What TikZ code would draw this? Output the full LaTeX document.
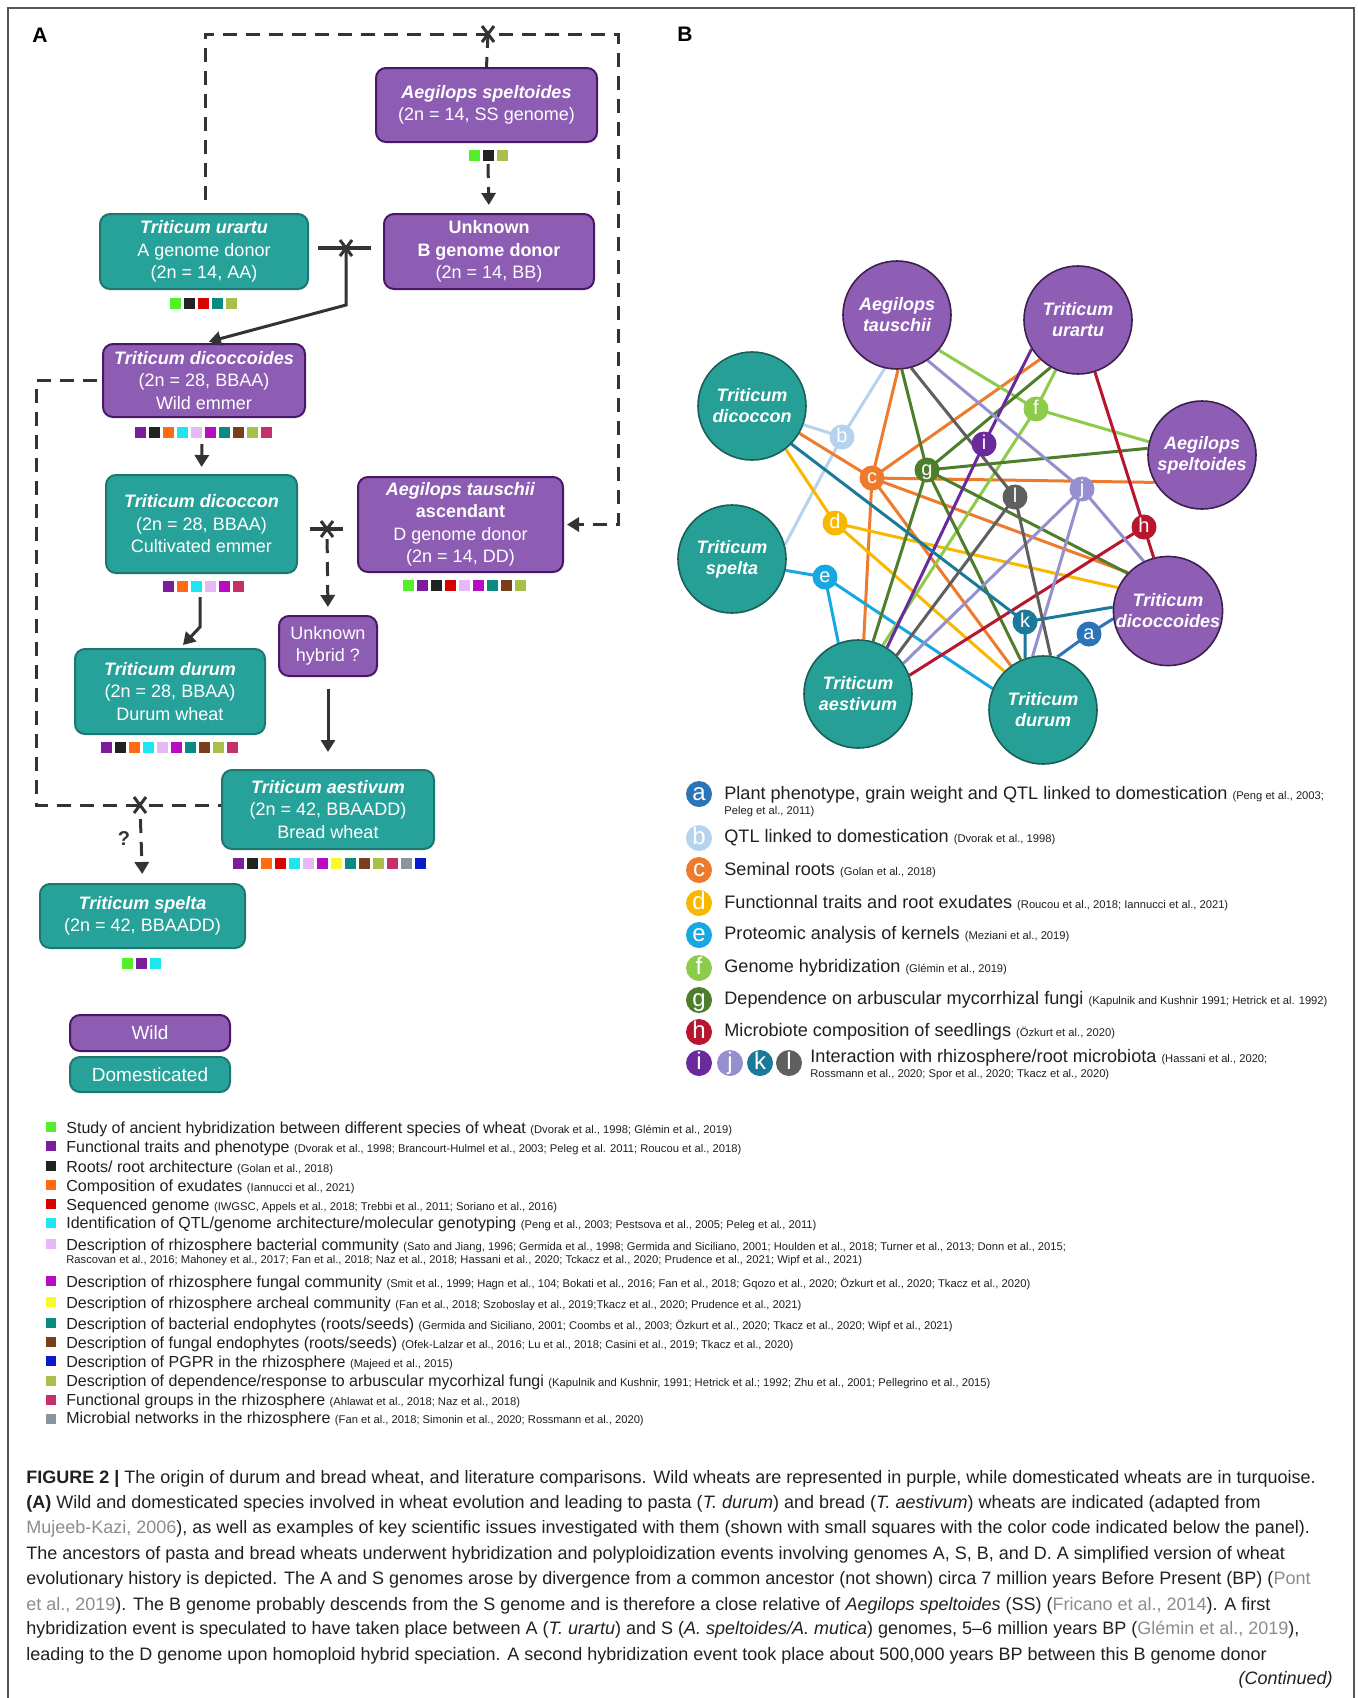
\documentclass[tikz,border=0pt]{standalone}
\usepackage{fontspec}
\setmainfont{Liberation Sans}
\usetikzlibrary{arrows.meta,calc}
\pgfdeclarelayer{edgelayer}
\pgfsetlayers{edgelayer,main}
% box colours
\definecolor{wildF}{HTML}{8D5CB3}
\definecolor{wildD}{HTML}{4A1768}
\definecolor{domF}{HTML}{27A29A}
\definecolor{domD}{HTML}{1D7770}
\definecolor{bwildF}{HTML}{8E5DB4}
\definecolor{bwildD}{HTML}{3D2050}
\definecolor{bdomF}{HTML}{26A096}
\definecolor{bdomD}{HTML}{1A5E58}
\definecolor{lineC}{HTML}{333333}
\definecolor{frameC}{HTML}{555555}
\definecolor{txtC}{HTML}{231F20}
\definecolor{citC}{HTML}{8C8C8C}
% square colours
\definecolor{qGr}{HTML}{55EE2A}
\definecolor{qPu}{HTML}{7A1E9C}
\definecolor{qBk}{HTML}{222222}
\definecolor{qOr}{HTML}{FF6A13}
\definecolor{qRd}{HTML}{D80000}
\definecolor{qCy}{HTML}{1EE6F0}
\definecolor{qLv}{HTML}{E6B8F5}
\definecolor{qMg}{HTML}{B70CC4}
\definecolor{qYe}{HTML}{F8F82A}
\definecolor{qTe}{HTML}{0A8A80}
\definecolor{qBr}{HTML}{7A3F1A}
\definecolor{qBl}{HTML}{0A1ACD}
\definecolor{qOl}{HTML}{A8C04A}
\definecolor{qCr}{HTML}{C4306A}
\definecolor{qGy}{HTML}{8895A0}
% letter colours
\definecolor{cA}{HTML}{2B74B8}
\definecolor{cB}{HTML}{B5D3EE}
\definecolor{cC}{HTML}{EE7A2E}
\definecolor{cD}{HTML}{F9B800}
\definecolor{cE}{HTML}{17A8E3}
\definecolor{cF}{HTML}{8DCB4A}
\definecolor{cG}{HTML}{4E7E2B}
\definecolor{cH}{HTML}{B8152E}
\definecolor{cI}{HTML}{6A2A9C}
\definecolor{cJ}{HTML}{9490CF}
\definecolor{cK}{HTML}{1B7A9A}
\definecolor{cL}{HTML}{5F5F5F}

\newcommand\cit[1]{{\fontsize{5.6}{6.5}\selectfont #1}}
\newcommand\gcit[1]{\textcolor{citC}{#1}}
\newcommand\hybx[1]{\draw[lineC, line width=1.5pt] ($(#1)+(-6,-8)$) -- ($(#1)+(6,8)$) ($(#1)+(-6,8)$) -- ($(#1)+(6,-8)$);}
\newcommand\sqrow[3]{\foreach \cc [count=\i from 0] in {#3}{\fill[\cc] ({#1+14*\i-5.5},{#2-5.5}) rectangle ++(11,11);}}

\tikzset{
  box/.style={rounded corners=5pt, line width=1pt, text=white, align=center, inner sep=0pt, font=\fontsize{9}{11.25}\selectfont},
  wild/.style={box, fill=wildF, draw=wildD},
  dom/.style={box, fill=domF, draw=domD},
  dline/.style={draw=lineC, line width=1.5pt, dash pattern=on 7pt off 4.5pt},
  sline/.style={draw=lineC, line width=1.5pt},
  barline/.style={draw=lineC, line width=2pt},
  arr/.style={-{Triangle[width=7pt,length=6pt]}},
  spc/.style={circle, minimum size=54pt, inner sep=0pt, line width=0.8pt, text=white, align=center, font=\bfseries\itshape\fontsize{9}{10.5}\selectfont},
  bwild/.style={spc, fill=bwildF, draw=bwildD},
  bdom/.style={spc, fill=bdomF, draw=bdomD},
  lett/.style={circle, minimum size=12.5pt, inner sep=0pt, text=white, font=\fontsize{10}{10}\selectfont, text height=7.2pt, text depth=1.9pt},
  lettL/.style={circle, minimum size=13pt, inner sep=0pt, text=white, font=\fontsize{12}{12}\selectfont, text height=8.6pt, text depth=2.3pt},
  edge/.style={line width=1.5pt},
  legA/.style={anchor=west, inner sep=0pt, font=\fontsize{8}{9.5}\selectfont, text=txtC},
  legB/.style={anchor=west, inner sep=0pt, font=\fontsize{9.05}{10}\selectfont, text=txtC},
  capt/.style={anchor=west, inner sep=0pt, font=\fontsize{9}{10}\selectfont, text=txtC},
}

\begin{document}
\begin{tikzpicture}[x=0.5pt,y=-0.5pt]
\useasboundingbox (0,0) rectangle (1357,1698);
\begin{pgfonlayer}{edgelayer}
\fill[white] (0,0) rectangle (1357,1698);
\end{pgfonlayer}
\draw[frameC, line width=1pt] (8,1698) -- (8,8) -- (1354,8) -- (1354,1698);

% ---------------- Panel A ----------------
\node[font=\bfseries\fontsize{10.5}{12}\selectfont] (lA) at (40,35) {A};

\node[wild, minimum width=110.5pt, minimum height=37pt] (SPT) at (486.5,105)
  {\textbf{\textit{Aegilops speltoides}}\\(2n = 14, SS genome)};
\node[dom, minimum width=104pt, minimum height=37.5pt] (URA) at (204,251.5)
  {\textbf{\textit{Triticum urartu}}\\A genome donor\\(2n = 14, AA)};
\node[wild, minimum width=105pt, minimum height=37.5pt] (UNB) at (489,251.5)
  {\textbf{Unknown}\\\textbf{B genome donor}\\(2n = 14, BB)};
\node[wild, minimum width=101pt, minimum height=36.5pt] (DCD) at (204,380.5)
  {\textbf{\textit{Triticum dicoccoides}}\\(2n = 28, BBAA)\\Wild emmer};
\node[dom, minimum width=95.5pt, minimum height=49pt] (DCN) at (201.5,524)
  {\textbf{\textit{Triticum dicoccon}}\\(2n = 28, BBAA)\\Cultivated emmer};
\node[wild, minimum width=102.5pt, minimum height=47.5pt] (TAU) at (460.5,524.5)
  {\textbf{\textit{Aegilops tauschii}}\\\textbf{ascendant}\\D genome donor\\(2n = 14, DD)};
\node[wild, minimum width=49pt, minimum height=30pt] (UNH) at (328,646)
  {Unknown\\hybrid ?};
\node[dom, minimum width=95pt, minimum height=42.5pt] (DUR) at (170,691.5)
  {\textbf{\textit{Triticum durum}}\\(2n = 28, BBAA)\\Durum wheat};
\node[dom, minimum width=106pt, minimum height=39.5pt] (AES) at (328,809.5)
  {\textbf{\textit{Triticum aestivum}}\\(2n = 42, BBAADD)\\Bread wheat};
\node[dom, minimum width=102.5pt, minimum height=32pt] (SPL) at (142.5,916)
  {\textbf{\textit{Triticum spelta}}\\(2n = 42, BBAADD)};

\node[wild, minimum width=80pt, minimum height=18pt, font=\fontsize{9.5}{11}\selectfont] (LW) at (150,1033) {Wild};
\node[dom, minimum width=80pt, minimum height=17.5pt, font=\fontsize{9.5}{11}\selectfont] (LD) at (150,1074.5) {Domesticated};

% squares
\sqrow{474}{155}{qGr,qBk,qOl}
\sqrow{175.5}{303}{qGr,qBk,qRd,qTe,qOl}
\sqrow{140.5}{432}{qPu,qBk,qOr,qCy,qLv,qMg,qTe,qBr,qOl,qCr}
\sqrow{168}{586}{qPu,qOr,qCy,qLv,qMg,qCr}
\sqrow{408.5}{585}{qGr,qPu,qBk,qRd,qLv,qMg,qTe,qBr,qOl}
\sqrow{106}{747}{qPu,qBk,qOr,qCy,qLv,qMg,qTe,qBr,qOl,qCr}
\sqrow{238}{863}{qPu,qBk,qOr,qRd,qCy,qLv,qMg,qYe,qTe,qBr,qOl,qCr,qGy,qBl}
\sqrow{127.5}{963}{qGr,qPu,qCy}

% connectors
\coordinate (ua) at (205,200);
\coordinate (xt) at (488,34);
\draw[dline,arr,shorten >=1.5pt] (ua) |- (618,34) |- (TAU.east);
\draw[dline] (xt) -- (SPT.north);
\hybx{xt}

\coordinate (sps) at (488,164);
\draw[dline,arr,shorten >=4pt] (sps) -- (UNB.north);

\coordinate (h1l) at (318,248);
\coordinate (h1r) at (371,248);
\coordinate (x1) at (346,248);
\draw[barline] (h1l) -- (h1r);
\hybx{x1}
\draw[sline,arr,shorten >=2.5pt] (x1) -- (346,305) -- (DCD.north);

\coordinate (x3) at (140,805);
\draw[dline,shorten <=2.5pt] (DCD.west) -| (36,805) -- (AES.west |- x3);
\hybx{x3}
\draw[dline,arr,shorten <=7pt,shorten >=4.5pt] (x3) -- (SPL.north);
\node[font=\bfseries\fontsize{10}{12}\selectfont, text=lineC] (qm) at (124,839) {?};

\coordinate (dq) at (202,444);
\draw[sline,arr,shorten >=3.5pt] (dq) -- (DCN.north);

\coordinate (h2l) at (310,529);
\coordinate (h2r) at (343,529);
\coordinate (x2) at (327,529);
\draw[barline] (h2l) -- (h2r);
\hybx{x2}
\draw[dline,arr,shorten <=5pt,shorten >=4pt] (x2) -- (UNH.north);

\draw[sline,arr,shorten <=6pt,shorten >=8.5pt] (UNH.south) -- (AES.north);

\coordinate (cq) at (200,597);
\coordinate (dt) at (183,645);
\draw[sline,arr] (cq) -- (200,627) -- (dt);

% ---------------- Panel B ----------------
\node[font=\bfseries\fontsize{10.5}{12}\selectfont] (lB) at (685,34) {B};

\node[bwild] (bTA) at (897,315) {Aegilops\\tauschii};
\node[bwild] (bTU) at (1078,320) {Triticum\\urartu};
\node[bdom] (bDCN) at (752,406) {Triticum\\dicoccon};
\node[bwild] (bSP) at (1202,455) {Aegilops\\speltoides};
\node[bdom] (bSPE) at (732,559) {Triticum\\spelta};
\node[bwild] (bDCD) at (1168,611) {Triticum\\dicoccoides};
\node[bdom] (bAES) at (858,694) {Triticum\\aestivum};
\node[bdom] (bDUR) at (1043,710) {Triticum\\durum};

\node[lett, fill=cA] (la) at (1089,634) {a};
\node[lett, fill=cB] (lb) at (842,437) {b};
\node[lett, fill=cC] (lc) at (872,478) {c};
\node[lett, fill=cD] (ld) at (835,523) {d};
\node[lett, fill=cE] (le) at (825,577) {e};
\node[lett, fill=cF] (lf) at (1036,409) {f};
\node[lett, fill=cG] (lg) at (927,470) {g};
\node[lett, fill=cH] (lh) at (1144,527) {h};
\node[lett, fill=cI] (li) at (984,444) {i};
\node[lett, fill=cJ] (lj) at (1082,489) {j};
\node[lett, fill=cK] (lk) at (1025,622) {k};
\node[lett, fill=cL] (ll) at (1015,497) {l};

\begin{pgfonlayer}{edgelayer}
  \foreach \t in {bDCD.188, bDUR.75} \draw[edge, cA] (la.center) -- (\t);
  \foreach \t in {bDCN.-20, bTA.257, bSPE.15} \draw[edge, cB] (lb.center) -- (\t);
  \foreach \t in {bDCN.-30, bTA.271, bTU.226, bSP.210, bAES.84, bDUR.126, bDCD.136} \draw[edge, cC] (lc.center) -- (\t);
  \foreach \t in {bDCN.308, bDCD.155, bDUR.135} \draw[edge, cD] (ld.center) -- (\t);
  \foreach \t in {bSPE.348, bAES.111, bDUR.157} \draw[edge, cE] (le.center) -- (\t);
  \foreach \t in {bTA.320, bTU.246, bSP.166, bAES.63} \draw[edge, cF] (lf.center) -- (\t);
  \foreach \t in {bTA.275, bTU.240, bSP.173, bAES.74, bDUR.114, bDCD.137} \draw[edge, cG] (lg.center) -- (\t);
  \foreach \t in {bTU.288, bDCD.105, bAES.20} \draw[edge, cH] (lh.center) -- (\t);
  \foreach \t in {bTU.212, bAES.58} \draw[edge, cI] (li.center) -- (\t);
  \foreach \t in {bTA.304, bDCD.116, bAES.34, bDUR.101} \draw[edge, cJ] (lj.center) -- (\t);
  \foreach \t in {bDCN.316, bDCD.176, bDUR.109} \draw[edge, cK] (lk.center) -- (\t);
  \foreach \t in {bTA.285, bAES.45, bDUR.82} \draw[edge, cL] (ll.center) -- (\t);
\end{pgfonlayer}

% legend B
\node[lettL, fill=cA] (La) at (699,794) {a};
\node[legB] (Ta) at (724,795) {Plant phenotype, grain weight and QTL linked to domestication \cit{(Peng et al., 2003;}};
\node[legB] (Ta2) at (724,812) {\cit{Peleg et al., 2011)}};
\node[lettL, fill=cB] (Lb) at (699,838) {b};
\node[legB] (Tb) at (724,838) {QTL linked to domestication \cit{(Dvorak et al., 1998)}};
\node[lettL, fill=cC] (Lc) at (699,870) {c};
\node[legB] (Tc) at (724,870) {Seminal roots \cit{(Golan et al., 2018)}};
\node[lettL, fill=cD] (Ld) at (699,903) {d};
\node[legB] (Td) at (724,903) {Functionnal traits and root exudates \cit{(Roucou et al., 2018; Iannucci et al., 2021)}};
\node[lettL, fill=cE] (Le) at (699,935) {e};
\node[legB] (Te) at (724,935) {Proteomic analysis of kernels \cit{(Meziani et al., 2019)}};
\node[lettL, fill=cF] (Lf) at (699,968) {f};
\node[legB] (Tf) at (724,968) {Genome hybridization \cit{(Glémin et al., 2019)}};
\node[lettL, fill=cG] (Lg) at (699,1000) {g};
\node[legB] (Tg) at (724,1000) {Dependence on arbuscular mycorrhizal fungi \cit{(Kapulnik and Kushnir 1991; Hetrick et al. 1992)}};
\node[lettL, fill=cH] (Lh) at (699,1032) {h};
\node[legB] (Th) at (724,1032) {Microbiote composition of seedlings \cit{(Özkurt et al., 2020)}};
\node[lettL, fill=cI] (Li) at (699,1063) {i};
\node[lettL, fill=cJ] (Lj) at (730,1063) {j};
\node[lettL, fill=cK] (Lk) at (760,1063) {k};
\node[lettL, fill=cL] (Ll) at (789,1063) {l};
\node[legB] (Ti) at (810,1058) {Interaction with rhizosphere/root microbiota \cit{(Hassani et al., 2020;}};
\node[legB] (Ti2) at (810,1075) {\cit{Rossmann et al., 2020; Spor et al., 2020; Tkacz et al., 2020)}};

% legend A
\foreach \c/\y in {qGr/1127, qPu/1146, qBk/1166, qOr/1185, qRd/1204, qCy/1223, qLv/1244, qMg/1281, qYe/1302, qTe/1323, qBr/1342, qBl/1361, qOl/1381, qCr/1400, qGy/1419}
  \fill[\c] (46,\y-5) rectangle ++(10,10);
\node[legA] (A1) at (66,1129) {Study of ancient hybridization between different species of wheat \cit{(Dvorak et al., 1998; Glémin et al., 2019)}};
\node[legA] (A2) at (66,1148) {Functional traits and phenotype \cit{(Dvorak et al., 1998; Brancourt-Hulmel et al., 2003; Peleg et al. 2011; Roucou et al., 2018)}};
\node[legA] (A3) at (66,1168) {Roots/ root architecture \cit{(Golan et al., 2018)}};
\node[legA] (A4) at (66,1187) {Composition of exudates \cit{(Iannucci et al., 2021)}};
\node[legA] (A5) at (66,1206) {Sequenced genome \cit{(IWGSC, Appels et al., 2018; Trebbi et al., 2011; Soriano et al., 2016)}};
\node[legA] (A6) at (66,1224) {Identification of QTL/genome architecture/molecular genotyping \cit{(Peng et al., 2003; Pestsova et al., 2005; Peleg et al., 2011)}};
\node[legA] (A7) at (66,1246) {Description of rhizosphere bacterial community \cit{(Sato and Jiang, 1996; Germida et al., 1998; Germida and Siciliano, 2001; Houlden et al., 2018; Turner et al., 2013; Donn et al., 2015;}};
\node[legA] (A7b) at (66,1261) {\cit{Rascovan et al., 2016; Mahoney et al., 2017; Fan et al., 2018; Naz et al., 2018; Hassani et al., 2020; Tckacz et al., 2020; Prudence et al., 2021; Wipf et al., 2021)}};
\node[legA] (A8) at (66,1283) {Description of rhizosphere fungal community \cit{(Smit et al., 1999; Hagn et al., 104; Bokati et al., 2016; Fan et al., 2018; Gqozo et al., 2020; Özkurt et al., 2020; Tkacz et al., 2020)}};
\node[legA] (A9) at (66,1304) {Description of rhizosphere archeal community \cit{(Fan et al., 2018; Szoboslay et al., 2019;Tkacz et al., 2020; Prudence et al., 2021)}};
\node[legA] (A10) at (66,1325) {Description of bacterial endophytes (roots/seeds) \cit{(Germida and Siciliano, 2001; Coombs et al., 2003; Özkurt et al., 2020; Tkacz et al., 2020; Wipf et al., 2021)}};
\node[legA] (A11) at (66,1344) {Description of fungal endophytes (roots/seeds) \cit{(Ofek-Lalzar et al., 2016; Lu et al., 2018; Casini et al., 2019; Tkacz et al., 2020)}};
\node[legA] (A12) at (66,1363) {Description of PGPR in the rhizosphere \cit{(Majeed et al., 2015)}};
\node[legA] (A13) at (66,1382) {Description of dependence/response to arbuscular mycorhizal fungi \cit{(Kapulnik and Kushnir, 1991; Hetrick et al.; 1992; Zhu et al., 2001; Pellegrino et al., 2015)}};
\node[legA] (A14) at (66,1401) {Functional groups in the rhizosphere \cit{(Ahlawat et al., 2018; Naz et al., 2018)}};
\node[legA] (A15) at (66,1419) {Microbial networks in the rhizosphere \cit{(Fan et al., 2018; Simonin et al., 2020; Rossmann et al., 2020)}};

% caption
\node[capt] (C1) at (26,1479) {\textbf{FIGURE 2 |} The origin of durum and bread wheat, and literature comparisons. Wild wheats are represented in purple, while domesticated wheats are in turquoise.};
\node[capt] (C2) at (26,1504) {\textbf{(A)} Wild and domesticated species involved in wheat evolution and leading to pasta (\textit{T. durum}) and bread (\textit{T. aestivum}) wheats are indicated (adapted from};
\node[capt] (C3) at (26,1529) {\gcit{Mujeeb-Kazi, 2006}), as well as examples of key scientific issues investigated with them (shown with small squares with the color code indicated below the panel).};
\node[capt] (C4) at (26,1555) {The ancestors of pasta and bread wheats underwent hybridization and polyploidization events involving genomes A, S, B, and D. A simplified version of wheat};
\node[capt] (C5) at (26,1580) {evolutionary history is depicted. The A and S genomes arose by divergence from a common ancestor (not shown) circa 7 million years Before Present (BP) (\gcit{Pont}};
\node[capt] (C6) at (26,1606) {\gcit{et al., 2019}). The B genome probably descends from the S genome and is therefore a close relative of \textit{Aegilops speltoides} (SS) (\gcit{Fricano et al., 2014}). A first};
\node[capt] (C7) at (26,1630) {hybridization event is speculated to have taken place between A (\textit{T. urartu}) and S (\textit{A. speltoides/A. mutica}) genomes, 5–6 million years BP (\gcit{Glémin et al., 2019}),};
\node[capt] (C8) at (26,1656) {leading to the D genome upon homoploid hybrid speciation. A second hybridization event took place about 500,000 years BP between this B genome donor};
\node[capt, anchor=east] (C9) at (1333,1680) {\textit{(Continued)}};
\end{tikzpicture}
\end{document}
